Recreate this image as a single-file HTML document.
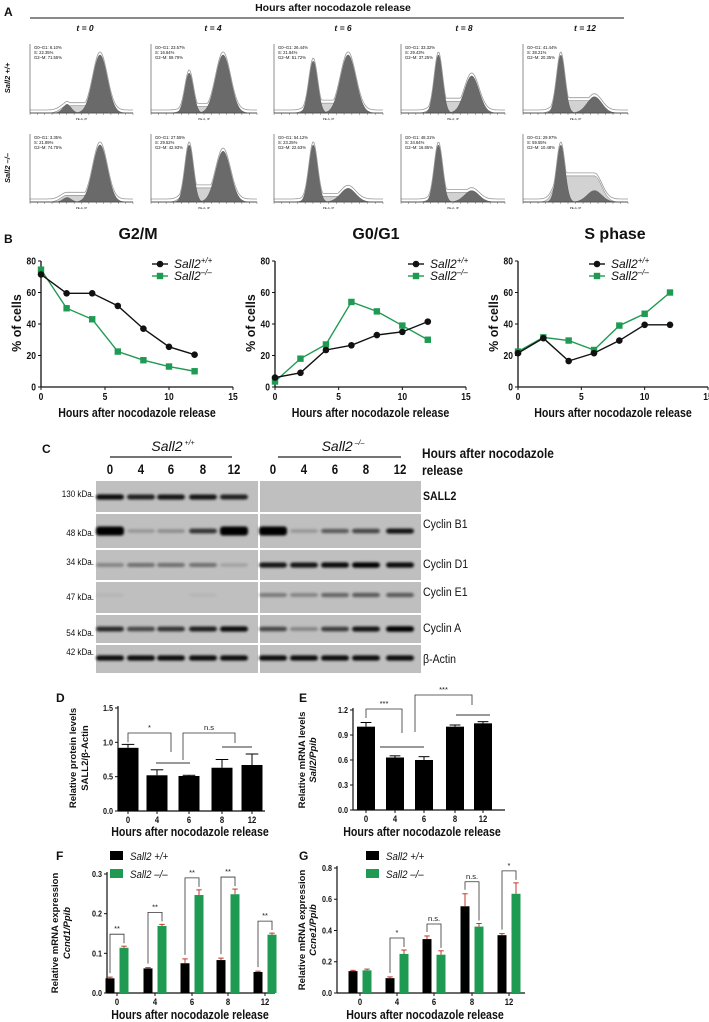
<!DOCTYPE html>
<html><head><meta charset="utf-8">
<style>
html,body{margin:0;padding:0;background:#fff;}
svg{display:block;font-family:"Liberation Sans",Arial,sans-serif;}
</style></head>
<body>
<svg id="fig" width="709" height="1022" viewBox="0 0 709 1022" xmlns="http://www.w3.org/2000/svg">
<defs>
<filter id="blur" x="-20%" y="-100%" width="140%" height="300%"><feGaussianBlur stdDeviation="1.2"/></filter>
</defs>
</svg>
<script>
// ---------- DATA ----------
const histTimes = ["t = 0","t = 4","t = 6","t = 8","t = 12"];
const histWtG1 = [6.10, 23.57, 26.44, 33.32, 41.44];
const histWtS  = [22.35, 16.64, 21.84, 29.43, 38.21];
const histWtG2 = [71.55, 59.79, 51.72, 37.25, 20.35];
const histKoG1 = [3.35, 27.55, 54.12, 48.31, 29.97];
const histKoS  = [21.89, 29.52, 23.25, 34.84, 59.55];
const histKoG2 = [74.75, 42.93, 22.63, 16.85, 10.48];
const bHours = [0, 2, 4, 6, 8, 10, 12];
const bXTicks = [0, 5, 10, 15];
const bYTicks = [0, 20, 40, 60, 80];
const g2mWt = [71.5, 59.5, 59.5, 51.5, 37, 25.5, 20.5];
const g2mKo = [74.5, 50, 43, 22.5, 17, 13, 10];
const g1Wt  = [6, 9, 23.5, 26.5, 33, 35, 41.5];
const g1Ko  = [3.5, 18, 27, 54, 48, 39, 30];
const sWt   = [21.5, 31, 16.5, 21.5, 29.5, 39.5, 39.5];
const sKo   = [22.5, 31.5, 29.5, 23.5, 39, 46.5, 60];
const blotProteins = ["SALL2","Cyclin B1","Cyclin D1","Cyclin E1","Cyclin A","β-Actin"];
const blotKda = ["130 kDa.","48 kDa.","34 kDa.","47 kDa.","54 kDa.","42 kDa."];
const blotLanes = ["0","4","6","8","12"];
const bandWt = [[.9,.8,.85,.85,.8],[1,.2,.25,.7,1],[.3,.4,.4,.4,.15],[.05,0,0,.05,0],[.75,.6,.7,.8,.9],[.9,.9,.9,.9,.9]];
const bandKo = [[0,0,0,0,0],[1,.2,.5,.6,.85],[.85,.85,.9,.95,.9],[.35,.3,.45,.5,.5],[.6,.3,.65,.85,1],[.9,.9,.9,.9,.9]];
const dCats = ["0","4","6","8","12"];
const dVals = [0.92, 0.52, 0.51, 0.63, 0.67];
const dErr  = [0.05, 0.08, 0.01, 0.12, 0.16];
const dTicks = [0.0, 0.5, 1.0, 1.5];
const eVals = [1.00, 0.63, 0.60, 1.00, 1.04];
const eErr  = [0.05, 0.02, 0.04, 0.02, 0.02];
const eTicks = [0.0, 0.3, 0.6, 0.9, 1.2];
const fWt = [0.037, 0.062, 0.075, 0.083, 0.053];
const fWtErr = [0.003, 0.002, 0.011, 0.005, 0.002];
const fKo = [0.114, 0.169, 0.247, 0.249, 0.147];
const fKoErr = [0.004, 0.004, 0.013, 0.013, 0.004];
const fTicks = [0.0, 0.1, 0.2, 0.3];
const fSig = ["**","**","**","**","**"];
const gWt = [0.14, 0.095, 0.345, 0.555, 0.37];
const gWtErr = [0.005, 0.008, 0.02, 0.08, 0.01];
const gKo = [0.145, 0.25, 0.245, 0.425, 0.635];
const gKoErr = [0.008, 0.025, 0.025, 0.02, 0.07];
const gTicks = [0.0, 0.2, 0.4, 0.6, 0.8];
const gSig = ["","*","n.s.","n.s.","*"];

// ---------- HELPERS ----------
const svg = document.getElementById('fig');
const NS = 'http://www.w3.org/2000/svg';
function mk(tag, attrs, parent) {
  const el = document.createElementNS(NS, tag);
  for (const k in attrs) el.setAttribute(k, attrs[k]);
  (parent || svg).appendChild(el);
  return el;
}
function txt(s, x, y, size, opts, parent) {
  opts = opts || {};
  const el = mk('text', {x: x, y: y, 'font-size': size, 'text-anchor': opts.anchor || 'start',
    'font-weight': opts.bold ? 'bold' : 'normal', 'font-style': opts.italic ? 'italic' : 'normal',
    fill: opts.fill || '#111'}, parent);
  if (opts.rot) el.setAttribute('transform', 'rotate(' + opts.rot + ' ' + x + ' ' + y + ')');
  if (opts.sx) el.setAttribute('transform', 'translate(' + x + ' ' + y + ') scale(' + opts.sx + ' 1) translate(' + (-x) + ' ' + (-y) + ')');
  el.textContent = s;
  return el;
}
function line(x1, y1, x2, y2, w, c, parent) {
  return mk('line', {x1: x1, y1: y1, x2: x2, y2: y2, stroke: c || '#111', 'stroke-width': w || 1}, parent);
}
const GREEN = '#1f9a52';

// ---------- PANEL A ----------
let el;
el = txt('A', 4, 16, 12, {bold: true});


el = txt('Hours after nocodazole release', 333, 11, 10.5, {bold: true, anchor: 'middle'});


el = line(30, 18, 624, 18, 1.3, '#444');


el = txt('Sall2 +/+', 10, 78, 7.5, {bold: true, italic: true, anchor: 'middle', rot: -90});


el = txt('Sall2 –/–', 10, 168, 7.5, {bold: true, italic: true, anchor: 'middle', rot: -90});



const panelX = [[30,133],[151,257],[274,383],[401,505],[523,628]];
function gauss(x, m, s) { return Math.exp(-0.5 * ((x - m) / s) * ((x - m) / s)); }
function histogram(i, top, bottom, g1, s, g2, rowName) {
  const g = mk('g', {});
  
  
  const x0 = panelX[i][0], x1 = panelX[i][1], w = x1 - x0;
  const m1 = x0 + w * 0.36, m2 = x0 + w * 0.68, s1 = w * 0.04, s2 = w * 0.07;
  const h = bottom - top - 8;
  const a1 = g1 / (s1), a2 = g2 / (s2), sa = s / (m2 - m1 + 2 * s1) * 2.3;
  const mx = Math.max(a1, a2, sa) * 1.05;
  const fy = v => bottom - v / mx * h;
  function area(fn, fill) {
    let d = 'M' + x0 + ' ' + bottom;
    for (let x = x0; x <= x1; x += 1) d += ' L' + x + ' ' + fy(fn(x)).toFixed(1);
    d += ' L' + x1 + ' ' + bottom + ' Z';
    return mk('path', {d: d, fill: fill, stroke: '#555', 'stroke-width': 0.4}, g);
  }
  const sfn = x => sa * (x > m1 && x < m2 ? 1 : Math.max(gauss(x, m1, s1 * 1.5), gauss(x, m2, s2)));
  el = area(sfn, '#d2d2d2');
  
  
  el = area(x => a1 * gauss(x, m1, s1), '#6a6a6a');
  
  
  el = area(x => a2 * gauss(x, m2, s2), '#6a6a6a');
  
  
  let d = '';
  for (let x = x0; x <= x1; x += 1) {
    const v = Math.max(a1 * gauss(x, m1, s1) + a2 * gauss(x, m2, s2), sfn(x));
    d += (d ? ' L' : 'M') + x + ' ' + (fy(v) - 3).toFixed(1);
  }
  el = mk('path', {d: d, fill: 'none', stroke: '#999', 'stroke-width': 0.8}, g);
  
  
  line(x0, top, x0, bottom, 0.6, '#444', g);
  line(x0, bottom, x1, bottom, 0.6, '#444', g);
  for (let k = 0; k <= 14; k++) line(x0 + w * k / 14, bottom, x0 + w * k / 14, bottom + 2, 0.4, '#444', g);
  txt('G0–G1: ' + g1.toFixed(2) + '%', x0 + 4, top + 5, 4.2, {}, g);
  txt('S: ' + s.toFixed(2) + '%', x0 + 4, top + 10, 4.2, {}, g);
  txt('G2–M: ' + g2.toFixed(2) + '%', x0 + 4, top + 15, 4.2, {}, g);
  txt('PE-A, IP', (x0 + x1) / 2, bottom + 7, 3, {anchor: 'middle'}, g);
}
for (let i = 0; i < 5; i++) {
  el = txt(histTimes[i], [85,213,343,464,585][i], 31, 8.5, {italic: true, bold: true, anchor: 'middle'});
  
  
  histogram(i, 44, 113, histWtG1[i], histWtS[i], histWtG2[i], 'wt');
  histogram(i, 134, 202, histKoG1[i], histKoS[i], histKoG2[i], 'ko');
}

// ---------- PANEL B ----------
el = txt('B', 4, 243, 12, {bold: true});


function lineChart(name, title, titleX, xa, xb, wt, ko, legX) {
  const g = mk('g', {});
  
  
  const yTop = 261, yBot = 387;
  const sx = v => xa + (xb - xa) * v / 15;
  const sy = v => yBot - (yBot - yTop) * v / 80;
  el = txt(title, titleX, 239, 16, {bold: true, anchor: 'middle'}, g);
  
  
  line(xa, yTop, xa, yBot, 1.3, '#111', g);
  line(xa, yBot, xb, yBot, 1.3, '#111', g);
  bYTicks.forEach(t => { line(xa - 3, sy(t), xa, sy(t), 1, '#111', g); txt(String(t), xa - 5, sy(t) + 3.5, 10, {anchor: 'end', bold: true, sx: 0.85}, g); });
  bXTicks.forEach(t => { line(sx(t), yBot, sx(t), yBot + 3, 1, '#111', g); txt(String(t), sx(t), yBot + 13, 10, {anchor: 'middle', bold: true, sx: 0.85}, g); });
  el = txt('Hours after nocodazole release', (xa + xb) / 2, 417, 12.5, {anchor: 'middle', bold: true, sx: 0.85}, g);
  
  
  el = txt('% of cells', xa - 20, 323, 12.5, {anchor: 'middle', bold: true, rot: -90}, g);
  
  
  [[ko, GREEN, 'sq', 'series-ko'], [wt, '#111', 'ci', 'series-wt']].forEach(([vals, col, mkType, sname]) => {
    const pts = bHours.map((h, k) => sx(h) + ',' + sy(vals[k])).join(' ');
    const ln = mk('polyline', {points: pts, fill: 'none', stroke: col, 'stroke-width': 1.4}, g);
    
    
    bHours.forEach((h, k) => {
      let m;
      if (mkType === 'sq') m = mk('rect', {x: sx(h) - 3.2, y: sy(vals[k]) - 3.2, width: 6.4, height: 6.4, fill: col}, g);
      else m = mk('circle', {cx: sx(h), cy: sy(vals[k]), r: 3.3, fill: col}, g);
      
      
    });
  });
  const lg = mk('g', {}, g);
  
  
  line(legX - 8, 264, legX + 8, 264, 1.4, '#111', lg);
  mk('circle', {cx: legX, cy: 264, r: 3.3, fill: '#111'}, lg);
  line(legX - 8, 276, legX + 8, 276, 1.4, GREEN, lg);
  mk('rect', {x: legX - 3.2, y: 272.8, width: 6.4, height: 6.4, fill: GREEN}, lg);
  const t1 = txt('Sall2', legX + 14, 268, 12, {italic: true}, lg);
  const s1 = mk('tspan', {'font-size': 8, dy: -5}, t1); s1.textContent = '+/+';
  const t2 = txt('Sall2', legX + 14, 280, 12, {italic: true}, lg);
  const s2 = mk('tspan', {'font-size': 8, dy: -5}, t2); s2.textContent = '–/–';
}
lineChart('chart-g2m', 'G2/M', 138, 41, 233, g2mWt, g2mKo, 160);
lineChart('chart-g0g1', 'G0/G1', 376, 275, 466, g1Wt, g1Ko, 416);
lineChart('chart-s-phase', 'S phase', 615, 518, 708, sWt, sKo, 597);

// ---------- PANEL C ----------
el = txt('C', 42, 453, 12, {bold: true});


[['Sall2', '+/+', 179, 110, 232], ['Sall2', '–/–', 349, 278, 401]].forEach(([a, b, cx, l1, l2], k) => {
  const t = txt(a, cx - 6, 451, 14, {italic: true, anchor: 'middle'});
  const ts = mk('tspan', {'font-size': 7, dy: -6}, t); ts.textContent = ' ' + b;
  
  
  line(l1, 457, l2, 457, 1.2, '#222');
});
el = txt('Hours after nocodazole', 422, 458, 13.5, {bold: true, sx: 0.88});


txt('release', 422, 475, 13.5, {bold: true, sx: 0.88});
const laneWt = [110, 141, 171, 203, 234], laneKo = [273, 304, 335, 366, 400];
blotLanes.forEach((l, k) => {
  el = txt(l, laneWt[k], 474, 13.5, {anchor: 'middle', bold: true, sx: 0.85});
  
  
  el = txt(l, laneKo[k], 474, 13.5, {anchor: 'middle', bold: true, sx: 0.85});
  
  
});
const rowY = [[481,512],[514,548],[550,580],[582,613],[615,643],[645,673]];
const bandY = [497, 531, 565, 595, 629, 658];
const kdaY = [497, 536, 565, 600, 636, 655];
const protY = [500, 528, 568, 596, 632, 663];
blotProteins.forEach((p, r) => {
  [[96, 258, laneWt, bandWt], [260, 421, laneKo, bandKo]].forEach(([x0, x1, lanes, bands], side) => {
    const rc = mk('rect', {x: x0, y: rowY[r][0], width: x1 - x0, height: rowY[r][1] - rowY[r][0], fill: '#bfbfbf'});
    
    
    lanes.forEach((lx, k) => {
      const v = bands[r][k];
      if (v <= 0) return;
      const big = (r === 1 && v >= 1);
      const bh = big ? 9 : 3 + v * 2.5;
      const bd = mk('rect', {x: lx - 14, y: bandY[r] - bh / 2, width: 28, height: bh, rx: 3, fill: '#000', opacity: Math.min(1, v * 1.05), filter: 'url(#blur)'});
      
      
    });
  });
  el = txt(blotKda[r], 94, kdaY[r], 9.5, {anchor: 'end', sx: 0.85});
  
  
  el = txt(p, 423, protY[r], 12, {bold: r === 0, sx: 0.88});
  
  
});

// ---------- BAR CHART HELPER ----------
function barChart(cfg) {
  const g = mk('g', {});
  
  
  const sy = v => cfg.yBot - (cfg.yBot - cfg.yTop) * v / cfg.max;
  line(cfg.x0, cfg.yTop - 2, cfg.x0, cfg.yBot, 1.2, '#111', g);
  line(cfg.x0, cfg.yBot, cfg.x1, cfg.yBot, 1.2, '#111', g);
  cfg.ticks.forEach(t => {
    line(cfg.x0 - 3, sy(t), cfg.x0, sy(t), 1, '#111', g);
    txt(t.toFixed(1), cfg.x0 - 5, sy(t) + 3, 8.5, {anchor: 'end', bold: true, sx: 0.85}, g);
  });
  cfg.centers.forEach((c, k) => {
    line(c, cfg.yBot, c, cfg.yBot + 3, 1, '#111', g);
    txt(dCats[k], c, cfg.yBot + 12, 9, {anchor: 'middle', bold: true, sx: 0.85}, g);
  });
  cfg.series.forEach(s => {
    s.vals.forEach((v, k) => {
      const cx = cfg.centers[k] + s.off;
      const b = mk('rect', {x: cx - cfg.bw / 2, y: sy(v), width: cfg.bw, height: cfg.yBot - sy(v), fill: s.color}, g);
      
      
      const e = s.err[k];
      line(cx, sy(v), cx, sy(v + e), 1, s.ecolor, g);
      line(cx - cfg.bw * 0.3, sy(v + e), cx + cfg.bw * 0.3, sy(v + e), 1, s.ecolor, g);
    });
  });
  el = txt('Hours after nocodazole release', cfg.xlX, cfg.xlY, 12.5, {anchor: 'middle', bold: true, sx: 0.85}, g);
  
  
  el = txt(cfg.yl1, cfg.ylX1, cfg.ylY, 9.5, {anchor: 'middle', bold: true, rot: -90}, g);
  
  
  const t2 = txt('', cfg.ylX2, cfg.ylY, 9.5, {anchor: 'middle', bold: true, rot: -90}, g);
  cfg.yl2.forEach(([s, it]) => { const ts = mk('tspan', {'font-style': it ? 'italic' : 'normal'}, t2); ts.textContent = s; });
  return {g: g, sy: sy};
}

// ---------- PANEL D ----------
el = txt('D', 56, 702, 12, {bold: true});


const dC = [128, 157, 189, 222, 252];
const D = barChart({name: 'chart-d-protein', x0: 118, x1: 265, yTop: 708, yBot: 811, max: 1.5, ticks: dTicks, centers: dC, bw: 21,
  series: [{name: 'sall2-protein', vals: dVals, err: dErr, off: 0, color: '#000', ecolor: '#000'}],
  xlX: 190, xlY: 836, yl1: 'Relative protein levels', ylX1: 76, ylY: 758, ylX2: 88, yl2: [['SALL2/β-Actin', false]]});
function bracket(g, xa, ya, yt, xb, yb, label) {
  mk('polyline', {points: xa + ',' + ya + ' ' + xa + ',' + yt + ' ' + xb + ',' + yt + ' ' + xb + ',' + yb, fill: 'none', stroke: '#333', 'stroke-width': 0.8}, g);
  txt(label, (xa + xb) / 2, yt - 3, 7.5, {anchor: 'middle'}, g);
}
bracket(D.g, 128, D.sy(0.97) - 2, 733, 171, 752, '*');
line(156, 763, 190, 763, 0.9, '#333', D.g);
bracket(D.g, 183, 760, 733, 235, 743, 'n.s');
line(222, 747, 252, 747, 0.9, '#333', D.g);

// ---------- PANEL E ----------
el = txt('E', 299, 702, 12, {bold: true});


const eC = [366, 395, 424, 455, 483];
const E = barChart({name: 'chart-e-mrna', x0: 353, x1: 505, yTop: 710, yBot: 810, max: 1.2, ticks: eTicks, centers: eC, bw: 18,
  series: [{name: 'sall2-mrna', vals: eVals, err: eErr, off: 0, color: '#000', ecolor: '#000'}],
  xlX: 422, xlY: 836, yl1: 'Relative mRNA levels', ylX1: 305, ylY: 760, ylX2: 316, yl2: [['Sall2/Ppib', true]]});
bracket(E.g, 366, 718, 709, 402, 733, '***');
line(380, 747, 424, 747, 0.9, '#333', E.g);
bracket(E.g, 415, 732, 695, 472, 705, '***');
line(456, 715, 490, 715, 0.9, '#333', E.g);

// ---------- PANEL F / G ----------
function groupedPanel(letter, lx, name, x0, x1, yTop, max, ticks, centers, wt, wtE, ko, koE, sig, legX, ylX1, ylX2, ylY, yl2, xlX) {
  el = txt(letter, lx, 860, 12, {bold: true});
  
  
  const P = barChart({name: name, x0: x0, x1: x1, yTop: yTop, yBot: 993, max: max, ticks: ticks, centers: centers, bw: 9,
    series: [{name: 'wt', vals: wt, err: wtE, off: -7, color: '#000', ecolor: '#c0392b'},
             {name: 'ko', vals: ko, err: koE, off: 7, color: GREEN, ecolor: '#c0392b'}],
    xlX: xlX, xlY: 1019, yl1: 'Relative mRNA expression', ylX1: ylX1, ylY: ylY, ylX2: ylX2, yl2: yl2});
  centers.forEach((c, k) => {
    if (!sig[k]) return;
    const top = P.sy(Math.max(wt[k] + wtE[k], ko[k] + koE[k])) - 12;
    bracket(P.g, c - 7, P.sy(wt[k] + wtE[k]) - 4, top, c + 7, P.sy(ko[k] + koE[k]) - 3, sig[k]);
  });
  const lg = mk('g', {}, P.g);
  
  
  mk('rect', {x: legX, y: 851, width: 13, height: 9, fill: '#000'}, lg);
  mk('rect', {x: legX, y: 869, width: 13, height: 9, fill: GREEN}, lg);
  txt('Sall2 +/+', legX + 20, 860, 11, {italic: true, sx: 0.88}, lg);
  txt('Sall2 –/–', legX + 20, 878, 11, {italic: true, sx: 0.88}, lg);
}
groupedPanel('F', 56, 'chart-f-ccnd1', 107, 275, 874, 0.3, fTicks, [117, 155, 192, 228, 265], fWt, fWtErr, fKo, fKoErr, fSig, 110, 58, 70, 933, [['Ccnd1/Ppib', true]], 190);
groupedPanel('G', 299, 'chart-g-ccne1', 337, 525, 868, 0.8, gTicks, [360, 397, 434, 472, 509], gWt, gWtErr, gKo, gKoErr, gSig, 366, 305, 316, 930, [['Ccne1/Ppib', true]], 425);
</script>
</body></html>
